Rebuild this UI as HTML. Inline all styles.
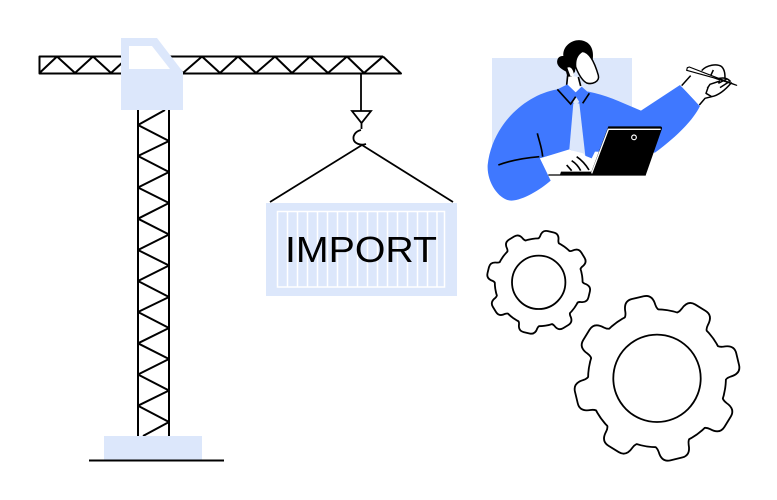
<!DOCTYPE html>
<html>
<head>
<meta charset="utf-8">
<style>
html,body{margin:0;padding:0;background:#fff;width:777px;height:500px;overflow:hidden}
svg{display:block}
</style>
</head>
<body>
<svg width="777" height="500" viewBox="0 0 777 500" xmlns="http://www.w3.org/2000/svg">
<rect width="777" height="500" fill="#fff"/>
<!-- jib -->
<g fill="none" stroke="#000" stroke-width="2" stroke-linejoin="round">
<path d="M383 56.500H39.500V73.500H401L383 56.500"/>
<path d="M39.500 73 L57 56.500 L75 73 L93 56.500 L111 73 L129 56.500 L147 73 L165 56.500 L183 73 L202 56.500 L220 73 L238 56.500 L256 73 L275 56.500 L292 73 L310 56.500 L328 73 L347 56.500 L364 73 L383 56.500"/>
<!-- tower -->
<path d="M138 110V436M169 110V436"/>
<path d="M165 110 L138 125 L169 141 L138 156 L169 172 L138 187.500 L169 203 L138 218.700 L169 234.500 L138 250 L169 265.500 L138 281 L169 297 L138 312 L169 328 L138 343.300 L169 359 L138 374.500 L169 390.500 L138 405.700 L169 422 L143 436"/>
</g>
<!-- cab -->
<path d="M121 38H157L183 72V110H121Z" fill="#dce7fb"/>
<path d="M129 46H152L170 69H129Z" fill="#fff"/>
<!-- base -->
<rect x="104" y="436" width="98" height="24" fill="#dce7fb"/>
<path d="M89 460.500H224" stroke="#000" stroke-width="2"/>
<!-- hook -->
<g fill="none" stroke="#000" stroke-width="1.800">
<path d="M361 74V111"/>
<path d="M352 111H371L361.500 123Z"/>
<path d="M361.500 123V129"/>
<path d="M361 130C356 131 353 135 353.500 139C354 143 360 146 366 144"/>
<path d="M270 202L362 145L453 202"/>
</g>
<!-- container -->
<rect x="266" y="203" width="191" height="93" fill="#dce7fb"/>
<g fill="none" stroke="#fff" stroke-width="1.500">
<rect x="277.500" y="211.500" width="167" height="75.500"/>
<path d="M287.500 212V287M297.500 212V287M307.500 212V287M317.500 212V287M327.500 212V287M337.500 212V287M347.500 212V287M357.500 212V287M367.500 212V287M377.500 212V287M387.500 212V287M397.500 212V287M407.500 212V287M417.500 212V287M427.500 212V287M437 212V287"/>
</g>
<text x="285" y="262" font-family="'Liberation Sans',sans-serif" font-size="36" fill="#000" textLength="152" lengthAdjust="spacingAndGlyphs">IMPORT</text>
<!-- person -->
<rect x="492" y="58" width="140" height="90" fill="#dce7fb"/>
<g transform="translate(480 30) scale(.33333)">
<path d="M232 178C130 195 35 290 23 405C20 460 60 512 95 512C130 510 180 480 212 452L180 385L268 358L335 385L345 365L525 368C590 320 640 270 660 228L600 165L483 242C430 220 380 195 325 185L290 188Z" fill="#3f78ff"/>
<path d="M280 220H298L316 378L268 358Z" fill="#dce7fb"/>
<path d="M288 200L298 216L288 224L278 216Z" fill="#dce7fb"/>
<path d="M263 136L260 165L288 187L305 168L295 141Z" fill="#fff"/>
<path d="M263 136L260 165M295 141L302 168" fill="none" stroke="#000" stroke-width="5"/>
<path d="M250 78C247 46 280 26 305 31C330 36 343 56 338 91L307 64L287 111L285 125L275 140L262 140L258 125C240 115 228 105 232 90C235 80 242 78 250 78Z" fill="#000"/>
<path d="M262 113C272 108 280 118 282 136L272 140C268 130 265 122 262 113Z" fill="#fff"/>
<path d="M307 64C330 66 345 101 355 136C360 156 335 164 320 159C305 151 295 131 287 111C285 91 290 74 307 64Z" fill="#fff" stroke="#000" stroke-width="4.500"/>
<path d="M262 163L232 178L272 222L287 200L308 220L328 190L305 170L287 187Z" fill="#3f78ff"/>
<path d="M232 178L272 222L287 200M308 220L328 190" fill="none" stroke="#000" stroke-width="5"/>
<path d="M172 310C178 335 186 355 188 380M55 405C90 392 130 384 178 380" fill="none" stroke="#000" stroke-width="5"/>
<path d="M180 385L270 360L310 370L335 400L330 428L240 434H205L215 455Z" fill="#fff"/>
<path d="M260 405L275 422M275 392C288 400 296 410 302 422M290 380C305 390 318 405 327 420" fill="none" stroke="#000" stroke-width="5"/>
<path d="M240 434L243 425H340V435Z" fill="#000"/>
<path d="M385 289H540Q547 289 546 296L497 436H330Z" fill="#000"/>
<path d="M335 430L385 298H542" fill="none" stroke="#fff" stroke-width="4"/>
<circle cx="462" cy="322" r="7" fill="none" stroke="#fff" stroke-width="3.500"/>
<path d="M205 435H497" stroke="#000" stroke-width="4"/>
<g transform="translate(570 75)">
<path d="M33 92L65 55L110 30C140 25 160 35 165 55L185 80C175 100 150 120 125 125L105 130L88 152Z" fill="#fff"/>
<path d="M52 38L58 36L200 91L130 68L50 46Z" fill="#fff" stroke="#000" stroke-width="3.500" stroke-linejoin="round"/>
<path d="M35 92L62 62M95 47C110 30 140 25 155 35C165 45 165 60 165 70M185 82C170 100 150 120 125 125L105 130L88 150M130 45L122 62M112 100L120 88L150 78M115 95L108 115L125 125M140 72C165 65 175 72 182 80M145 85L170 72M150 98L178 80" fill="none" stroke="#000" stroke-width="4.500" stroke-linejoin="round"/>
</g>
</g>
<!-- gears -->
<defs>
<g id="sg"><circle r="43"/>
<path id="st" d="M-12 -40Q-9 -42 -8.500 -45Q-8 -51 -3 -51L3 -51Q8 -51 8.500 -45Q9 -42 12 -40Z"/>
<use href="#st" transform="rotate(45)"/><use href="#st" transform="rotate(90)"/><use href="#st" transform="rotate(135)"/><use href="#st" transform="rotate(180)"/><use href="#st" transform="rotate(225)"/><use href="#st" transform="rotate(270)"/><use href="#st" transform="rotate(315)"/>
</g>
<g id="bg"><circle r="68"/>
<path id="bt" d="M-19 -64Q-15 -66 -14.500 -72Q-14 -82 -6 -82L6 -82Q14 -82 14.500 -72Q15 -66 19 -64Z"/>
<use href="#bt" transform="rotate(45)"/><use href="#bt" transform="rotate(90)"/><use href="#bt" transform="rotate(135)"/><use href="#bt" transform="rotate(180)"/><use href="#bt" transform="rotate(225)"/><use href="#bt" transform="rotate(270)"/><use href="#bt" transform="rotate(315)"/>
</g>
</defs>
<g transform="translate(538.700 282.300) rotate(13.500)">
<use href="#sg" fill="#000" stroke="#000" stroke-width="3.600" stroke-linejoin="round"/>
<use href="#sg" fill="#fff"/>
</g>
<circle cx="538.700" cy="282.300" r="26.700" fill="#fff" stroke="#000" stroke-width="1.800"/>
<g transform="translate(657 378.300) rotate(-13.400)">
<use href="#bg" fill="#000" stroke="#000" stroke-width="3.600" stroke-linejoin="round"/>
<use href="#bg" fill="#fff"/>
</g>
<circle cx="657" cy="378.300" r="43.700" fill="#fff" stroke="#000" stroke-width="1.800"/>
</svg>
</body>
</html>
